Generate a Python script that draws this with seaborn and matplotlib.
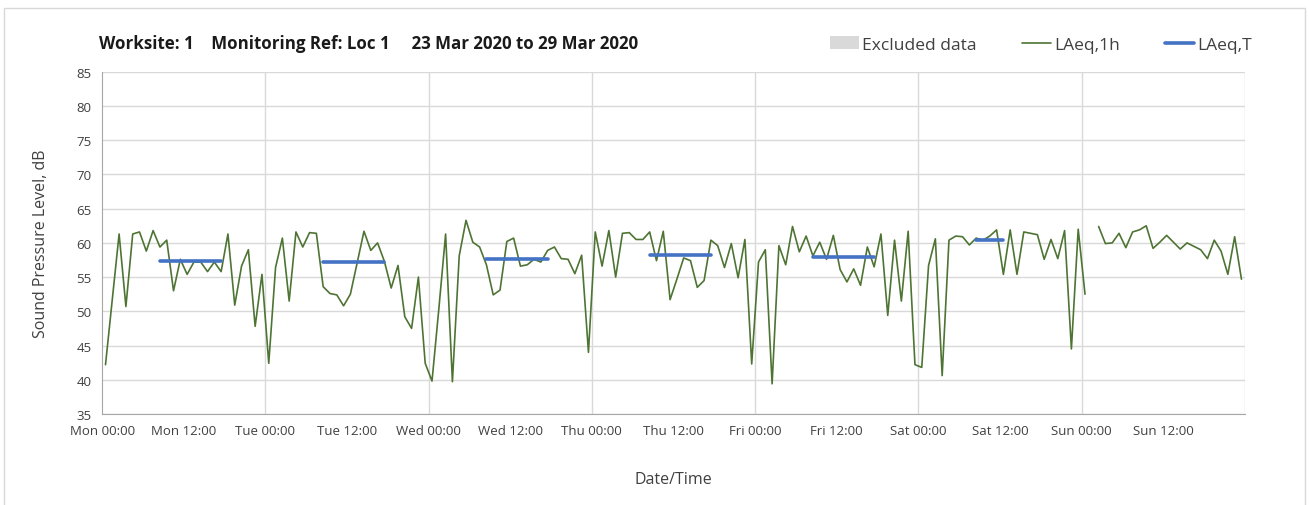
import numpy as np
import pandas as pd
import seaborn as sns
import matplotlib.pyplot as plt
from matplotlib.patches import Patch, Rectangle
from matplotlib.lines import Line2D

sns.set_style("white")
plt.rcParams['font.family'] = ['Open Sans', 'DejaVu Sans']

# hourly LAeq,1h values, one list per day (00:00-01:00 ... 23:00-24:00)
mon = [42.2, 51.7, 61.3, 50.7, 61.3, 61.6, 58.8, 61.8, 59.4, 60.4, 53.0, 57.6,
       55.4, 57.2, 57.2, 55.8, 57.2, 55.8, 61.3, 50.9, 56.6, 59.0, 47.8, 55.4]
tue = [42.4, 56.4, 60.7, 51.5, 61.6, 59.4, 61.5, 61.4, 53.6, 52.6, 52.4, 50.8,
       52.5, 57.1, 61.7, 58.9, 60.0, 57.3, 53.4, 56.7, 49.2, 47.5, 55.0, 42.4]
wed = [39.8, 50.3, 61.3, 39.7, 58.1, 63.3, 60.1, 59.4, 56.8, 52.4, 53.1, 60.2,
       60.7, 56.6, 56.8, 57.6, 57.2, 58.9, 59.4, 57.7, 57.6, 55.5, 58.2, 44.0]
thu = [61.6, 56.6, 61.8, 55.0, 61.4, 61.5, 60.5, 60.5, 61.6, 57.4, 61.7, 51.7,
       54.7, 57.8, 57.4, 53.5, 54.5, 60.4, 59.6, 56.4, 59.9, 54.9, 60.5, 42.3]
fri = [57.2, 59.0, 39.4, 59.6, 56.8, 62.4, 58.7, 61.0, 58.1, 60.1, 57.6, 61.1,
       56.1, 54.3, 56.2, 53.8, 59.4, 56.5, 61.3, 49.4, 60.4, 51.5, 61.7, 42.2]
sat = [41.8, 56.7, 60.6, 40.6, 60.4, 61.0, 60.9, 59.7, 60.7, 60.4, 61.0, 61.9,
       55.4, 61.9, 55.4, 61.6, 61.4, 61.2, 57.6, 60.5, 57.7, 61.8, 44.5, 62.0]
sun = [52.5, np.nan, 62.4, 59.9, 60.0, 61.4, 59.3, 61.6, 61.9, 62.5, 59.2, 60.1,
       61.1, 60.1, 59.1, 60.0, 59.5, 59.0, 57.7, 60.4, 58.8, 55.4, 60.9, 54.7]

# daytime LAeq,T per day (hours 08-18, Saturday 08-13)
laeq_t_days = [0, 1, 2, 3, 4, 5]
laeq_t_vals = [57.3, 57.2, 57.7, 58.3, 57.9, 60.4]
laeq_t_start = [8, 8, 8, 8, 8, 8]
laeq_t_end = [18, 18, 18, 18, 18, 13]

day_names = ['Mon', 'Tue', 'Wed', 'Thu', 'Fri', 'Sat', 'Sun']

hourly = mon + tue + wed + thu + fri + sat + sun
df = pd.DataFrame({'hour': np.arange(len(hourly)) + 0.5, 'level': hourly})
# split into runs at missing hours so the line breaks there
df['seg'] = df['level'].isna().cumsum()
df = df.dropna()

rows = []
for d, v, s, e in zip(laeq_t_days, laeq_t_vals, laeq_t_start, laeq_t_end):
    for h in range(s, e):
        rows.append({'hour': d * 24 + h + 0.5, 'level': v, 'day': d})
df_t = pd.DataFrame(rows)

fig = plt.figure(figsize=(13.09, 5.06), dpi=100)
ax = fig.add_axes([0.078, 0.180, 0.873, 0.676])

green = '#4E7434'
blue = '#4472C4'
sns.lineplot(data=df, x='hour', y='level', units='seg', estimator=None,
             ax=ax, color=green, lw=1.2)
sns.lineplot(data=df_t, x='hour', y='level', units='day', estimator=None,
             ax=ax, color=blue, lw=2.6)

ax.set_xlim(0, 168)
ax.set_ylim(35, 85)
ax.set_yticks(range(35, 86, 5))
ax.set_xticks(range(0, 168, 12))
ax.set_xticklabels([f"{day_names[t // 24]} {t % 24:02d}:00" for t in range(0, 168, 12)])
for d in range(1, 8):
    ax.axvline(d * 24, color='#D9D9D9', lw=1, zorder=0)
ax.grid(axis='y', color='#D9D9D9', lw=1)
ax.set_axisbelow(True)
for side in ['top', 'right']:
    ax.spines[side].set_visible(False)
for side in ['left', 'bottom']:
    ax.spines[side].set_color('#A6A6A6')
ax.tick_params(axis='both', direction='out', length=4, color='#A6A6A6',
               labelsize=9.5, labelcolor='#404040')

ax.set_xlabel('Date/Time', fontsize=11.5, color='#404040', labelpad=24)
ax.set_ylabel('Sound Pressure Level, dB', fontsize=11.5, color='#404040', labelpad=20)

fig.text(0.076, 0.913, 'Worksite: 1    Monitoring Ref: Loc 1     23 Mar 2020 to 29 Mar 2020',
         fontsize=12.2, fontweight='bold', color='#1a1a1a', va='center')

handles = [Patch(facecolor='#D9D9D9', edgecolor='none'),
           Line2D([], [], color=green, lw=1.2),
           Line2D([], [], color=blue, lw=2.6)]
fig.legend(handles, ['Excluded data', 'LAeq,1h', 'LAeq,T'], loc='center right',
           bbox_to_anchor=(0.968, 0.91), ncol=3, frameon=False, fontsize=12.5,
           handlelength=1.7, handletextpad=0.15, columnspacing=2.6,
           labelcolor='#404040')

fig.patches.append(Rectangle((0.003, -0.1), 0.994, 1.082, transform=fig.transFigure,
                             fill=False, edgecolor='#D9D9D9', lw=1))

fig.savefig('out.png', dpi=100)
